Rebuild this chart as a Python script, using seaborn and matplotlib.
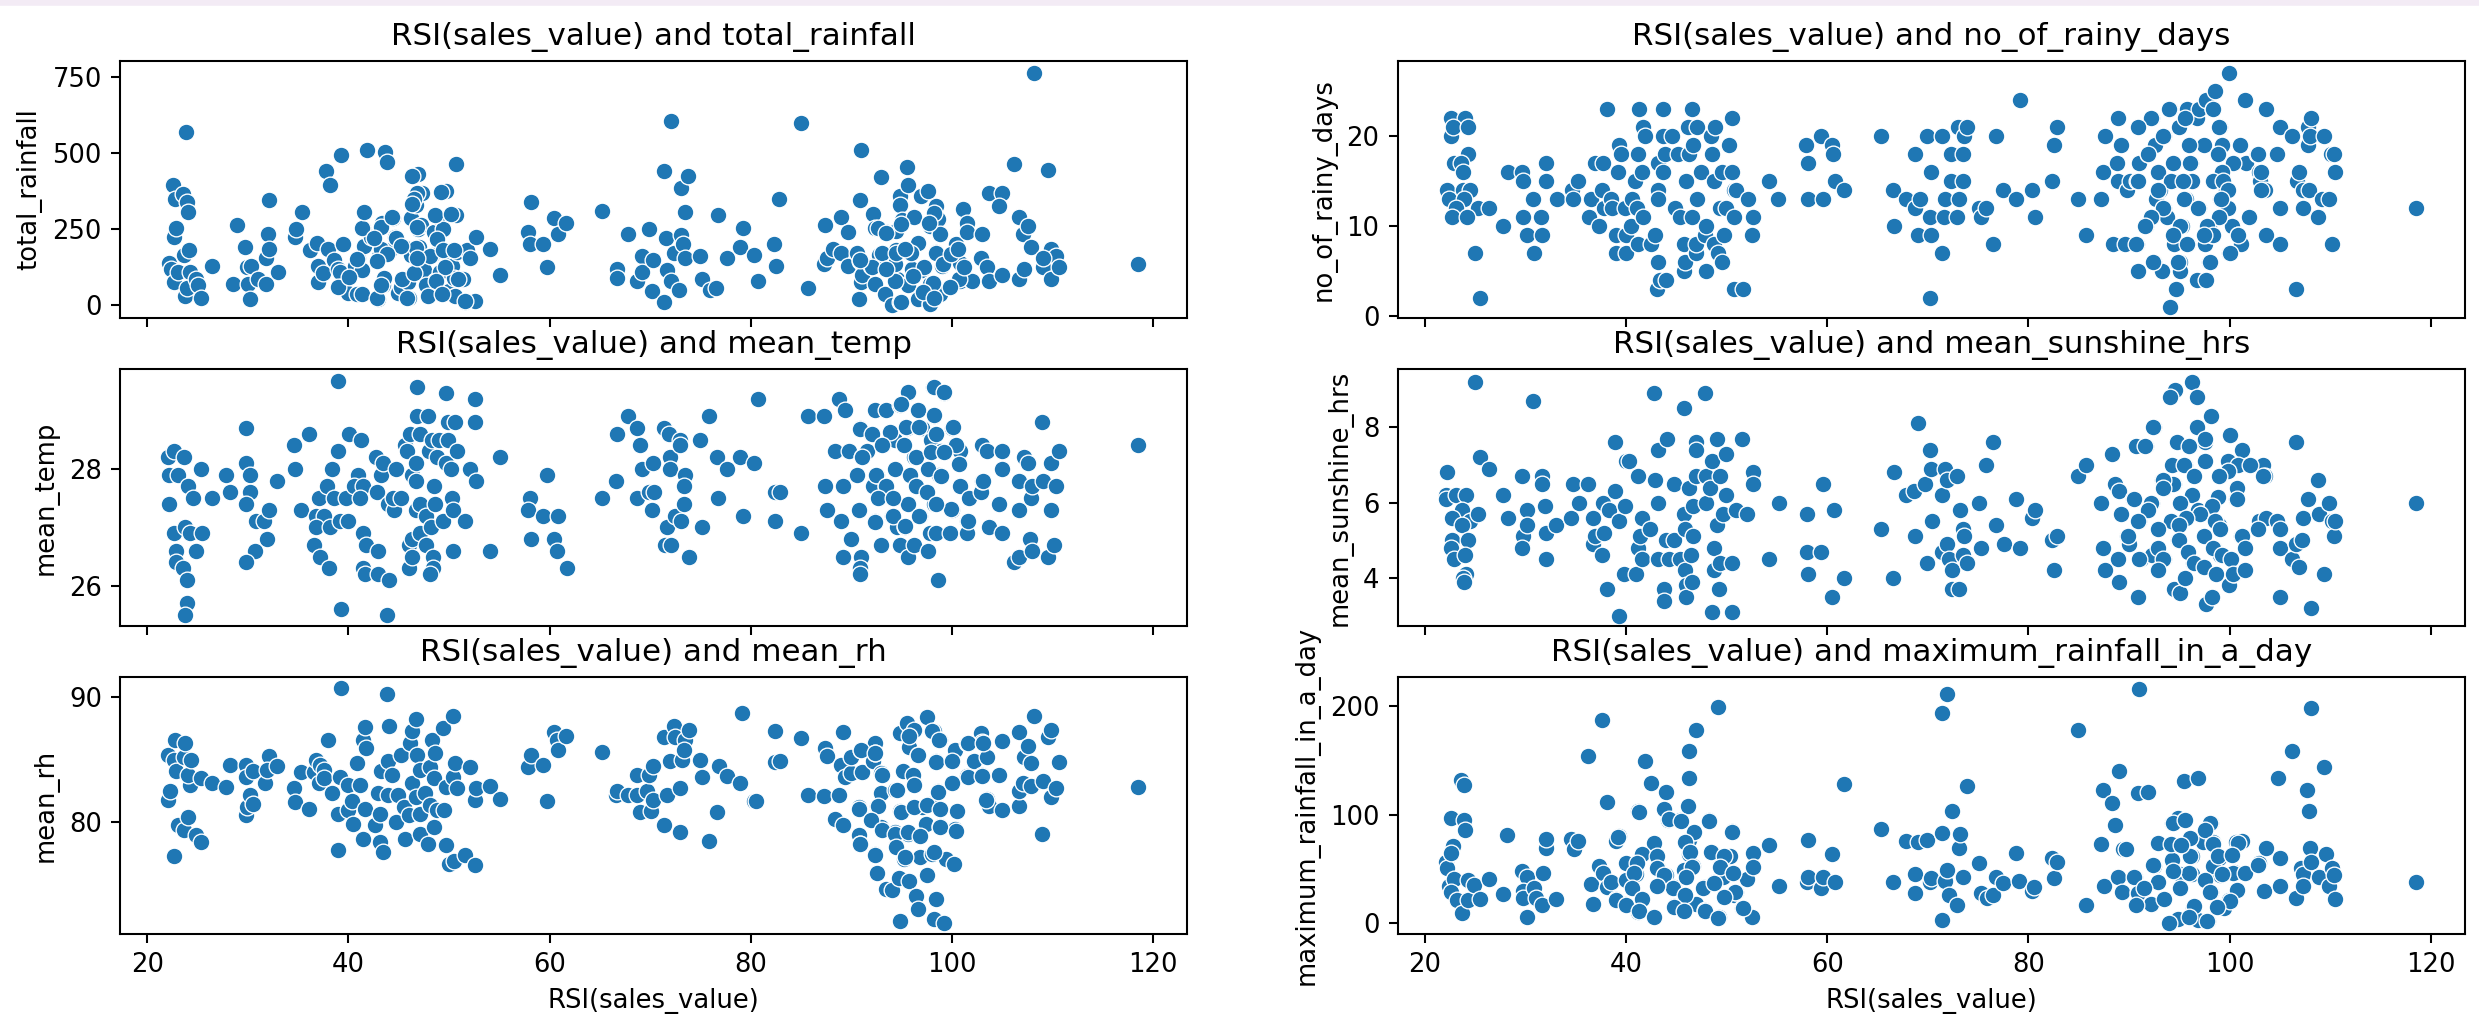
import pandas as pd
import matplotlib
matplotlib.use("Agg")
from matplotlib import pyplot as plt
import seaborn as sns

# values, (RSI, y) per panel
rainfall = [(22.2,140),(22.4,120),(22.6,395),(22.7,225),(22.8,350),(22.9,255),(22.7,75),(23.1,110),(23.6,365),(23.7,165),(23.9,570),(24,340),(24.1,305),(24.2,180),(24.3,110),(23.8,30),(24,55),(24.9,85),(25.1,65),(25.4,25),(26.4,130),
    (28.5,70),(28.9,265),(29.7,190),(29.9,125),(30,70),(30.3,130),(30.2,20),(31,85),(31.8,70),(31.8,155),(32,235),(32.1,185),(32.1,345),(33,110),(34.7,225),(34.8,250),(35.4,305),(36.2,180),(36.9,205),(37,75),(37,130),(37.5,105),(37.8,440),(38,185),(38.2,395),(38.6,150),(39,120),(39.2,110),(39.3,60),(39.5,200),(39.3,495),(40,40),(40.7,130),(40.9,35),(41,155),(41.4,115),(41.5,255),(41.6,195),(41.6,305),(41.9,510),(42.3,225),(42.9,20),(43,160),(43.3,270),(43.4,65),(43.5,90),(43.6,505),(43.8,470),(44.1,180),(44.4,285),(44.6,225),(44.9,40),(45.2,60),(45.5,190),(45.9,75),(46,25),(46.2,285),(46.2,165),(46.6,345),(46.7,330),(46.8,120),(46.9,250),(46.9,430),(47,190),(47.2,265),(47.3,370),(47.3,155),(47.5,115),(47.8,60),(48,40),(48.3,165),(48.5,240),(48.6,80),(48.9,290),(49.1,110),(49.4,250),(49.7,375),(49.8,170),(50,45),(50.3,130),(50.5,90),(50.7,295),(50.8,175),(50.7,465),(50.6,30),(51.4,85),(51.8,180),(51.6,10),(52.1,155),(52.6,15),(52.7,225),(54.1,185),(55.1,100),
    (57.9,240),(58.2,340),(58.1,200),(59.3,200),(59.7,125),(60.4,285),(60.8,235),(61.6,270),(65.2,310),(66.7,120),(66.7,90),(67.8,235),(68.7,80),(69.2,160),(69.2,110),(69.9,250),(70.3,150),(70.2,45),(71.4,440),(71.4,10),(71.6,220),(71.7,115),(72.1,605),(72.1,80),(72.4,170),(72.9,50),(73.1,230),(73.1,385),(73.3,200),(73.5,305),(73.8,425),(73.5,155),(75,160),(75.2,85),(75.9,50),(76.5,55),(76.7,295),(77.6,155),(78.9,190),(79.2,255),(80.3,165),(80.7,80),(82.3,200),(82.5,130),(82.8,350),(85,600),(85.7,55),
    (87.3,135),(87.4,265),(87.6,155),(88.2,185),(89,290),(89,170),(89.7,240),(89.7,130),(90.6,170),(90.8,20),(90.9,345),(90.9,145),(91,510),(91,75),(91.1,100),(91.9,130),(92.1,300),(92.3,255),(92.3,70),(92.7,165),(92.9,420),(93.3,35),(93.5,240),(94,0),(94.3,245),(94.3,135),(94.5,85),(94.4,180),(94.8,360),(94.8,10),(94.8,330),(95,280),(95.5,455),(95.6,395),(95.6,70),(95.6,175),(96.2,290),(96,120),(96.6,205),(96.6,20),(96.9,360),(97,115),(97.6,375),(97.8,5),(97.8,70),(97.8,260),(98.4,325),(98.6,280),(98.8,235),(98.4,175),(98.8,35),(99,130),(99.8,60),(100,165),(100.4,200),(100.8,80),(100.8,140),(101.1,315),(101.5,270),(101.5,240),(102,80),(102.9,155),(103,235),(103.5,125),(103.7,370),(103.7,80),(105,370),(104.7,325),(105,100),(106.2,465),(106.7,290),(106.7,85),(107.1,235),(107.2,120),(107.6,260),(107.9,190),(108.2,765),(109,125),(109.5,445),(109.8,185),(109.8,85),(110.3,160),(110.6,125),(109,155),(118.5,135)]
rainfall_dense = [(92,124),(90.9,149),(93,173),(94.3,134),(94.4,173),(96,118),(97.2,124),(98.4,173),(99.1,134),(99.9,167),(100.7,85),(99.8,61),(98.1,72),(95.6,67),(94.9,9),(97.8,3),(94.4,244),(92.6,255),(93.4,238),(94.9,266),(98.6,284),(98.2,304),(98.8,233),(97.7,271),(94.3,80),(93.4,118),(95.9,173),(97.1,42),(95.3,184),(101.2,124),(98.2,25),(96.1,96),(100.6,184),
    (39,58),(40.1,91),(41.4,36),(42.8,25),(43.2,66),(40.9,153),(43.2,184),(41.4,255),(43.2,258),(41.6,306),(44.3,290),(44.7,220),(45.3,85),(45.8,22),(46.5,107),(46.7,189),(46.8,258),(46.8,369),(46.5,348),(46.3,331),(46.3,424),(49.2,372),(48.6,295),(50.2,301),(48.8,216),(48.1,162),(49.4,180),(50.5,180),(49.6,124),(50.9,87),(47.7,66),(48.7,80),(47.9,31),(50.6,31),(51.6,14),(49.3,36),(46.8,156),(45.2,195),(42.5,222),(43.8,167),(42.8,145)]

mean_temp = [(39,29.5),(46.8,29.4),(49.7,29.3),(52.6,29.2),(80.7,29.2),(88.8,29.2),(95.6,29.3),(98.1,29.4),(99.2,29.3),
    (22.1,28.2),(22.7,28.3),(23.7,28.2),(22.2,27.9),(23.1,27.9),(22.2,27.4),(24.1,27.7),(25.4,28),(24.6,27.5),(26.4,27.5),(22.7,26.9),(23.8,27),(24.3,26.9),(25.5,26.9),(22.9,26.6),(22.9,26.4),(24.9,26.6),(23.6,26.3),(24,26.1),(24,25.7),(23.8,25.5),
    (27.8,27.9),(28.2,27.6),(29.8,28.7),(29.8,28.1),(30.2,27.9),(30.2,27.6),(29.8,27.4),(30.8,27.1),(31.6,27.1),(32.1,27.3),(31.9,26.8),(30.7,26.6),(29.8,26.4),(32.9,27.8),(34.6,28.4),(34.7,28),(35.3,27.3),(36.1,28.6),(36.6,26.7),(37.1,27.5),(36.8,27.2),(37.6,27.2),(36.8,27),(38.2,27),(37.2,26.5),(38.1,26.3),(37.9,27.7),(38.4,28),(38.6,27.5),(39,28.3),(39.2,27.1),(40,27.1),(40.1,28.6),(39.8,27.5),(41,27.9),(40.6,27.7),(41.3,28.5),(41.5,27.7),(41.2,27.5),(41.5,26.9),(41.8,26.7),(41.5,26.3),(41.7,26.2),(42.8,27.6),(42.9,26.6),(42.9,26.2),(42.7,28.2),(43.2,27.9),(43.4,28.1),(43.9,27.4),(44,26.1),(43.8,25.5),(39.3,25.6),(44.5,27.3),(44.4,27.5),(44.7,28),(45.2,27.5),(45.6,28.4),(45.8,28.3),(46.1,28.6),(46,26.7),(46,26.3),(46.3,27.9),(46.3,26.8),(46.3,26.5),(46.7,27.3),(46.7,27.8),(46.7,28.1),(46.8,28.9),(47.1,28.6),(47.1,27.4),(47.1,26.9),(47.7,27.2),(47.7,26.7),(47.9,28.9),(48,28.3),(48.3,28.5),(48.4,26.5),(48.4,26.3),(48.1,26.2),(48.5,27.7),(48.6,27.4),(48.8,28.2),(48.2,27),(49,28.5),(49.4,27.1),(49.7,28.1),(49.9,28.5),(49.9,28.8),(50.3,27.5),(50.4,27.3),(50.4,26.6),(50.2,28),(50.8,28.3),(50.6,28.8),(51.6,27.1),(52.1,28),(52.6,28.8),(52.7,27.8),(54.1,26.6),(55.1,28.2),
    (58.1,27.5),(57.9,27.3),(58.2,26.8),(59.3,27.2),(59.7,27.9),(60.4,26.8),(60.7,26.6),(60.8,27.2),(61.7,26.3),(65.2,27.5),(66.6,27.8),(66.7,28.6),(67.8,28.9),(68.7,28.7),(68.7,27.5),(69,28.4),(69.2,28),(69.9,27.6),(70.3,28.1),(70.2,27.3),(70.4,27.6),(71.4,28.7),(71.5,26.7),(71.7,27),(72,28.2),(71.9,28.6),(72,28),(72.1,26.7),(72.5,27.2),(73,28.5),(73,28.4),(73.1,27.1),(73.5,27.9),(73.4,27.7),(73.4,27.4),(73.9,26.5),(75,28.5),(75.2,27),(75.8,28.9),(76.6,28.2),(76.7,27.5),(77.6,28),(78.9,28.2),(79.2,27.2),(80.3,28.1),(82.4,27.6),(82.9,27.6),(82.4,27.1),(85,26.9),(85.7,28.9),(87.3,28.9),(87.4,27.7),(87.6,27.3),(88.4,28.3),(89,27.1),(89.2,27.7),(89.2,26.5),(89.4,29),(89.8,28.3),(90,26.8),(90.6,27.9),(90.8,27.3),(90.9,28.7),(91,26.5),(90.9,26.3),(90.9,26.2),(91.1,28.2),(91.6,28.3),(91.9,28.6),(92.1,27.7),(92.3,29),(92.3,27.1),(92.5,27.9),(92.7,27.5),(92.9,26.7),(93.1,28.4),(93.4,29),(93.4,27.7),(94,27.5),(94,27.2),(94.3,28.5),(94.3,28),(94.5,27),(94.8,29.1),(94.8,26.7),(95.3,27),(95.6,26.5),(95.5,28.7),(95.6,27.4),(96.2,28.2),(96.2,26.7),(96.6,29),(96.4,27.7),(96.8,27.2),(97,28.7),(97.4,27.6),(97.6,28),(97.6,26.6),(97.8,26.9),(97.9,28.5),(98.2,28.9),(98.4,26.9),(98.2,27.4),(98.6,26.1),(98.7,27.9),(98.9,28.3),(99.8,26.9),(100,28.7),(100,27.3),(100.3,28.4),(100.8,27.7),(100.7,28.1),(100.8,28.3),(101.5,27.1),(101.5,26.9),(101.7,27.5),(102.9,27.6),(103,27.8),(103,28.4),(103.5,28.3),(103.7,27),(104.7,27.4),(105,28.3),(105,28),(105,26.9),(106.2,26.4),(106.7,27.3),(106.7,26.5),(106.7,27.8),(107.2,28.2),(107.6,28.1),(107.9,27.5),(107.8,26.8),(108,26.6),(108,27.7),(108.9,28.8),(109,27.8),(109.5,26.5),(109.8,28.1),(109.8,27.3),(110.1,26.7),(110.3,27.7),(110.6,28.3),(118.5,28.4)]
temp_dense = [(95.6,29.31),(98.2,29.4),(99.2,29.31),(94.9,29.11),(96.6,29.01),(98.2,28.92),(90.9,28.69),(92,28.6),(93.8,28.63),(95.4,28.71),(96.7,28.71),(98.4,28.6),(100.1,28.71),(93,28.4),(95.2,28.4),(91.1,28.21),(100.4,28.4),(96.4,28.2),(97.9,28.28),(99.2,28.28),(100.7,28.09),(94.3,28),(97.6,28),(98.9,27.88),(95.8,27.9),(92.4,27.9),(90.6,27.9),(93.4,27.7),(96.4,27.7),(97.5,27.6),(92.6,27.5),(94.1,27.5),(99.9,27.31),(98.4,27.4),(96.7,27.2),(94.1,27.2),(92.3,27.09),(95.3,27.03),(101.6,27.1),(103.05,27.8)]

mean_rh = [(22.1,85.4),(22.1,81.8),(22.3,82.5),(22.8,86.6),(22.7,85),(22.9,84.1),(22.7,77.3),(23.1,79.8),(23.7,85.2),(23.8,86.3),(23.7,79.4),(24.1,80.4),(24.3,83),(24.1,83.8),(24.4,85),(24.9,79),(25.4,78.4),(25.4,83.5),(26.4,83.1),(27.8,82.8),(28.2,84.6),(29.8,84.6),(29.8,83.6),(29.8,80.6),(29.9,81.2),(30.2,82.2),(30.5,81.5),(30.5,84.1),(31.7,83.1),(32.1,85.3),(31.9,84.2),(32.9,84.5),(34.6,82.7),(34.7,81.6),(35.3,84),(36.1,81.1),(36.6,84),(36.8,85),(37.1,83.1),(37.2,84.6),(37.6,84.2),(37.6,83.5),(38,86.6),(38.4,82.3),(39,77.8),(39.3,90.7),(39,80.7),(39.2,83.6),(40,83),(40,81),(40.4,81.7),(40.5,79.9),(40.9,84.7),(41.2,83),(41.5,86.6),(41.5,78.7),(41.7,87.6),(41.7,81.1),(41.8,85.9),(42.6,79.8),(42.9,82.3),(43.1,78.4),(43.1,80.7),(43.2,84.1),(43.4,77.6),(43.8,90.2),(44,87.7),(43.9,82.2),(43.9,84.9),(44.3,83.8),(44.7,80),(44.9,82.2),(45.2,85.4),(45.5,81.2),(45.6,78.7),(46,80.6),(46.1,86.3),(46.3,87.3),(46.3,83.1),(46.7,88.2),(46.8,85.4),(46.7,82),(47.1,79.1),(47.1,80.7),(47.1,84.2),(47.6,82.3),(47.9,78.3),(48.1,81.4),(48.1,84.4),(48.3,86.6),(48.5,79.6),(48.6,85.5),(48.8,81),(48.5,83.5),(49.4,87.5),(49.5,81),(49.7,82.8),(49.7,78.2),(50,76.7),(50.4,83.6),(50.4,88.5),(50.5,76.9),(50.6,84.7),(50.8,82.7),(51.6,77.4),(52.1,84.4),(52.6,76.6),(52.6,81.8),(52.7,82.7),(54.1,82.9),(55.1,81.9),
    (57.9,84.4),(58.2,85.4),(59.3,84.6),(59.7,81.7),(60.4,87.2),(60.7,86.6),(60.8,85.8),(61.6,86.9),(65.2,85.6),(66.6,82.2),(66.7,82.5),(67.8,82.2),(68.7,82.2),(68.7,83.8),(69,80.8),(69.7,82.5),(69.9,83.8),(70.1,80.9),(70.3,81.8),(70.3,84.5),(71.4,86.8),(71.4,79.8),(71.7,82.2),(72,84.9),(72.4,87.7),(72.5,86.8),(73,82.7),(73,79.2),(73.2,85),(73.5,86.6),(73.4,85.8),(73.9,87.4),(75,85),(75.2,83.6),(75.8,78.5),(76.6,80.8),(76.8,84.5),(77.6,83.7),(78.9,83.1),(79.1,88.7),(80.3,81.7),(80.5,81.7),(82.4,84.8),(82.9,84.9),(82.4,87.3),(85,86.7),(85.7,82.2),(87.3,82.1),(87.4,85.9),(87.6,85.3),(88.4,80.3),(88.8,82.2),(89,84.6),(89.2,87.2),(89.2,79.8),(89.4,83.6),(90,83.9),(90,85.2),(90.8,81.2),(90.8,79),(91,85.8),(90.9,78.3),(91.1,84),(91.9,80.3),(92.1,84.9),(92.3,86.3),(92.3,85.5),(92.3,77.5),(92.5,76),(92.5,81.3),(92.9,83.9),(92.9,82.3),(92.9,79.6),(93.4,74.7),(94,74.6),(94.3,82.6),(94.3,79.2),(94.4,78.2),(94.7,75.6),(94.8,72.1),(94.8,87.1),(94.8,80.9),(95.2,77.1),(95.5,87.9),(95.6,79.1),(95.7,86),(95.7,75.3),(96.2,83.1),(96.2,87.4),(96.4,74.1),(96.6,85.4),(96.6,73.1),(96.8,77.2),(97,81.2),(97.4,79.9),(97.5,75.8),(97.5,88.4),(97.8,81.5),(98,77.5),(98.2,72.3),(98.2,87.3),(98.4,84.9),(98.4,73.9),(98.6,82.5),(98.8,86.6),(98.8,79.7),(99.2,72),(99.4,77.1),(100,83.1),(100,84.9),(100.2,76.7),(100.5,80.9),(100.3,79.5),(100.3,85.8),(101.5,86.3),(101.5,83.7),(102.2,84.9),(102.9,87.1),(103,83.8),(103,86.4),(103.5,81.9),(103.5,85.2),(103.7,81.3),(104.7,83.8),(105,81),(105,86.5),(106.7,87.2),(106.7,81.3),(106.7,82.5),(107.1,83.1),(107.2,85.2),(107.6,86.1),(107.9,84.7),(107.9,82.9),(108.2,88.5),(108.9,79.1),(109,83.3),(109.5,86.8),(109.8,87.4),(109.8,82),(110.3,82.7),(110.6,84.8),(118.5,82.8)]
rh_dense = [(95.7,86.9),(98,87.3),(98.7,86.6),(91,85.8),(92.3,85.5),(96.6,85.4),(98.4,84.8),(100,84.9),(101.6,86.3),(103.05,86.3),(93,83.8),(95.1,84.1),(96.1,83.8),(101.6,83.6),(103,83.7),(94.5,82.6),(96.2,83),(98.6,82.4),(100,83.1),(92.6,81.3),(90.8,81.1),(91.9,80.2),(94.9,80.8),(96.2,81.2),(97.5,81.4),(98.8,81.1),(98.8,79.6),(100.4,79.3),(93,79.4),(94.3,79.1),(95.6,79.2),(96.8,78.9),(90.9,78.3),(94.4,78.06),(92.3,77.4),(95.3,77.2),(98.2,77.6),(103.4,81.8)]

rainy_days = [(22.6,22),(24,22),(22.6,20),(22.8,21),(24.3,21),(22.9,17),(24.3,18),(23.6,17),(23.8,16),(22.2,14),(22.4,13),(23.8,14),(24.5,14),(23.9,13),(23.1,12),(25.3,12),(26.4,12),(22.7,11),(24.2,11),(25,7),(25.5,2),(27.8,10),(28.3,16),(29.7,16),(29.8,15),(29.8,11),(30.2,9),(30.7,13),(30.8,7),(31.5,11),(31.6,9),(32,17),(32,15),(33.1,13),(34.6,14),(34.7,13),(35.2,15),(36.3,11),(36.5,13),(36.9,17),(37.3,10),(37.6,14),(37.7,17),(38.1,23),(37.8,12),(38.5,13),(38.6,12),(39,9),(39,7),(39.2,16),(39.3,19),(39.5,18),(40,9),(40,7),(39.9,12),(40.5,10),(40.6,13),(40.9,15),(41.2,18),(41.3,23),(41.1,12),(41.7,21),(41.7,11),(41.6,16),(41.2,8),(41.9,20),(42.5,8),(42.9,9),(43.2,6),(43.2,14),(43.1,3),(43.2,13),(43.2,17),(43.4,4),(43.7,23),(43.7,16),(44,4),(43.9,18),(43.7,20),(44.6,20),(44.9,12),(45.2,18),(45.4,11),(45.8,5),(45.8,8),(45.9,6),(46,15),(46.2,21),(46.3,18),(46.6,23),(46.6,11),(46.7,19),(47,7),(47.1,13),(47.1,21),(47,8),(47.4,16),(47.8,9),(47.9,5),(47.9,10),(48.4,20),(48.5,18),(48.7,15),(48.8,21),(48.7,8),(49.1,7),(49.3,12),(49.5,6),(49.5,16),(49.9,12),(49.7,9),(50.2,19),(50.5,22),(50.5,16),(50.7,3),(50.7,14),(50.7,11),(51.6,3),(50.9,14),(52.1,13),(52.6,11),(52.5,9),(54.2,15),(55.1,13),(57.9,19),(58.1,17),(58.1,13),(59.4,20),(59.6,13),(60.5,19),(60.6,18),(60.8,15),(61.7,14),(65.3,20),(66.5,14),(66.6,10),(67.8,13),(68.7,12),(69,9),(68.7,18),(69.2,13),(69.9,20),(70.2,11),(70.3,9),(70.2,2),(70.3,16),(71.4,7),(71.4,20),(71.6,11),(71.7,13),(72.3,15),(72.3,18),(72.9,11),(73.1,13),(73,21),(73.5,15),(73.5,18),(73.6,20),(73.9,21),(75.1,12),(75.3,11),(75.8,12),(76.5,8),(76.8,20),(77.5,14),(78.8,13),(79.2,24),(80.3,14),(80.6,11),(82.3,15),(82.5,19),(82.8,21),(84.9,13),(85.7,9),(87.2,13),(87.4,16),(87.6,20),(88.4,8),(88.9,22),(88.8,17),(88.9,15),(89.2,19),(89.6,8),(89.8,14),(90.1,15),(90.8,8),(90.8,15),(90.9,5),(90.9,21),(91,17),(91.7,10),(91.9,18),(92.3,22),(92.5,6),(92.3,11),(92.6,19),(92.7,13),(92.9,16),(93.1,14),(93.3,5),(93.5,12),(93.5,20),(93.8,11),(94.1,1),(94.1,23),(94.4,9),(94.5,8),(94.5,17),(94.7,3),(94.4,15),(95,21),(95.1,6),(95.1,5),(95.3,10),(95.7,13),(95.7,22),(95.8,23),(95.9,8),(96.2,17),(96.3,15),(96.7,22),(96.7,4),(96.9,12),(96.9,23),(97.3,19),(97.5,8),(97.6,24),(97.6,4),(97.9,6),(97.9,10),(98.2,9),(98.3,23),(98.5,25),(98.6,15),(98.8,18),(99,21),(99,13),(99,11),(99.2,19),(99.6,14),(99.8,12),(99.9,27),(99.9,7),(100.2,10),(100.4,17),(100.8,9),(101,19),(101.1,8),(101.5,24),(101.6,17),(101.9,11),(102.7,18),(102.9,16),(103,15),(103.5,14),(103.6,23),(103.6,9),(104.7,18),(105,21),(105,12),(105,8),(106.2,20),(106.6,3),(106.7,15),(106.9,16),(107.3,12),(107.3,14),(107.8,21),(107.8,19),(107.9,14),(108.1,22),(108,20),(108.8,11),(109.2,13),(109.4,20),(109.9,13),(110.1,18),(110.2,8),(110.4,18),(110.5,16),(118.5,12)]
days_dense = [(94,23),(95.6,22),(98.3,23),(92.2,22),(90.9,21),(93.4,20),(98.9,21),(97.4,19),(96,19),(91.9,18),(94.4,17),(96.1,17),(98.8,18),(100.3,17),(92.9,16),(99.2,16),(90.9,15),(94.2,15),(95.4,15),(98.3,15),(99.3,15),(92.9,14),(99.8,14),(95.5,13),(99.1,13),(93.4,12),(96.8,12),(92.2,11),(98.9,11),(101.9,11),(95.1,10),(97.7,10),(91.6,10),(94.4,9),(98.3,9),(100.8,9),(90.7,8),(95.8,8),(97.4,9),(100,7),(92.4,6),(94.9,6),(98,6),(102.8,18),(103.15,16),(103.15,14)]

sunshine = [(25,9.2),(30.7,8.7),(42.8,8.9),(47.8,8.9),(45.8,8.5),(94.6,9),(96.3,9.2),(94.1,8.8),(96.7,8.8),(98.1,8.3),
    (22.2,6.8),(22.1,6.2),(22.1,6.1),(23.1,6.2),(24.1,6.2),(23.7,5.8),(22.7,5.6),(24.5,5.5),(23.7,5.4),(25.5,7.2),(26.4,6.9),(25.3,5.7),(22.7,5),(22.6,4.8),(22.9,4.5),(24.3,5),(24,4.6),(24.1,4.1),(23.8,4),(23.9,3.9),(27.8,6.2),(28.3,5.6),(29.7,6.7),(29.8,5.1),(29.7,4.8),(30.2,5.8),(30.2,5.4),(31.6,6.7),(31.6,6.5),(31.9,5.9),(32,5.2),(32,4.5),(33,5.4),(34.7,6.5),(34.5,5.6),(35.3,6),(36.2,6.5),(36.7,5.6),(36.7,4.9),(36.9,5.1),(37.6,4.6),(37.8,5.2),(37.7,6),(38.3,5.8),(38.1,3.7),(38.9,7.6),(38.9,6.3),(39.3,3),(39.3,5.5),(39.8,4.1),(39.9,5.9),(40,7.1),(40.3,7.1),(41,4.1),(41.2,6.7),(41.2,4.8),(41.4,5.1),(41.6,5.6),(41.6,4.5),(42.4,5.3),(42.9,6.6),(43.2,4.5),(43.2,7.4),(43.2,6),(43.8,3.7),(43.8,3.4),(44.1,7.7),(44,5),(44.3,4.5),(44.8,6.5),(44.8,5),(45.4,4.5),(45.8,5.7),(45.9,4.2),(46,3.8),(46,3.5),(45.9,5.3),(46.3,6.4),(46.5,4.6),(46.7,5.1),(46.7,5.9),(46.6,3.9),(47,7.6),(47,7.4),(47,6.7),(47.9,6.7),(47.9,6),(48.3,6.4),(48.5,7.1),(48.5,3.1),(48.7,4.2),(48.7,4.8),(49,5.4),(49,7.7),(49.2,3.7),(49.3,6.7),(49.3,4.4),(49.6,5.7),(49.9,7.3),(49.9,6.2),(50.5,3.1),(50.5,4.4),(50.9,5.8),(51.5,7.7),(52,5.7),(52.6,6.8),(52.6,6.5),(54.2,4.5),(55.2,6),(58,5.7),(58,4.7),(58.1,4.1),(59.4,4.7),(59.6,6.5),(60.5,3.5),(60.7,5.8),(61.7,4),(65.3,5.3),(66.5,4),(66.6,6.8),(67.8,6.2),(68.6,6.3),(68.7,5.1),(69,8.1),(69.7,6.5),(69.9,4.4),(70.2,7.4),(70.3,6.9),(70.4,5.5),(71.4,4.7),(71.4,6.2),(71.7,6.9),(71.9,6.6),(71.9,4.9),(72.1,4.5),(72.4,4.2),(72.4,3.7),(72.9,6.7),(73.1,3.7),(73.2,5.8),(73.5,5.3),(73.6,5.1),(73.5,4.6),(73.9,4.4),(75.1,6),(75.3,4.8),(75.8,7),(76.5,7.6),(76.8,5.4),(77.6,4.9),(78.8,6.1),(79.2,4.8),(80.3,5.6),(80.6,5.8),(82.3,5),(82.5,4.2),(82.8,5.1),(84.9,6.7),(85.7,7),(87.2,6),(87.4,4.8),(87.6,4.2),(88.3,7.3),(88.6,6.5),(88.9,4.5),(89,3.9),(89,6.3),(89.2,5.7),(89.8,5.1),(90,4.9),(90.4,6.1),(90.8,7.5),(90.9,3.5),(91,5.5),(91.2,4.5),(91.7,7.5),(92.3,6),(92.3,4.6),(92.5,8),(92.9,4.2),(92.9,5.3),(93.3,6.6),(93.5,6.4),(93.5,4.5),(94.3,7),(94.5,3.7),(94.5,6.5),(94.3,5.5),(94.8,7.6),(94.9,5),(95.1,6),(95.1,3.6),(95.6,7),(95.6,4),(95.9,4.7),(96.1,7.5),(96.3,6.2),(96.4,4.4),(96.7,8),(96.8,5.8),(97.1,5.7),(97.4,5.1),(97.4,4.3),(97.5,7.1),(97.6,3.3),(97.5,7.6),(98.1,8.3),(98.2,3.5),(98.2,5.9),(98.4,4.8),(98.6,4.1),(98.9,5.4),(99,6.7),(99,4.6),(99.8,7.1),(100,7.8),(99.9,3.8),(100.4,4.1),(100.6,6.1),(100.7,6.4),(101.2,7.4),(101.1,5.1),(101.5,4.2),(101.5,4.8),(102,7),(102.8,5.3),(102.9,5.5),(103.3,7),(103.5,6.7),(103.6,5.6),(104.7,5.5),(105,5.3),(105,3.5),(105,4.8),(106.2,4.5),(106.6,7.6),(106.6,4.9),(106.9,4.3),(107.2,5),(107.3,5.6),(107.8,6.1),(108.1,3.2),(108.8,6.6),(108.9,5.7),(109.4,4.1),(109.9,6),(110.2,5.5),(110.4,5.1),(110.5,5.5),(118.5,6)]
sun_dense = [(92.4,8),(96.7,8),(100,7.8),(90.7,7.5),(91.6,7.5),(94.8,7.6),(96,7.5),(97.5,7.7),(101.2,7.4),(94.3,7),(95.5,7),(97.5,7.1),(100.8,7),(99.8,6.85),(102,7),(96.5,6.7),(98.9,6.7),(94.4,6.5),(93.4,6.6),(93.4,6.4),(100.7,6.1),(98.8,6.15),(90.5,6.1),(92.2,6),(95.1,6),(98.2,5.9),(91.9,5.8),(97,5.7),(95.7,5.6),(90.9,5.5),(94.2,5.5),(98.5,5.5),(92.9,5.3),(95,5.4),(99,5.3),(97.4,5.1),(95,5),(92.9,4.8),(98.3,4.8),(101.2,5.1),(101.5,4.8),(95.9,4.7),(89.9,5.1),(99.2,4.6),(100.1,4.5),(93.4,4.5),(91,4.5),(96.5,4.4),(97.4,4.3),(92.9,4.2),(98.6,4.1),(100.3,4.1),(101.5,4.2),(95.6,4),(102.8,5.3),(103.3,6.7)]

max_rainfall = [(22.6,97),(23.9,95),(24,86),(23.6,132),(23.9,127),(22.1,56),(22.2,51),(22.8,71),(22.6,65),(22.4,34),(22.9,41),(22.6,29),(23.2,21),(23.7,9),(24.3,40),(24.3,21),(24.9,35),(25.5,22),(26.4,41),(27.8,27),(28.2,81),(29.7,48),(30.2,43),(29.8,30),(29.8,23),(30.2,6),(30.8,32),(31,23),(31.6,17),(31.7,46),(32,69),(32,78),(33,22),(34.5,78),(34.8,68),(35.2,76),(36.2,154),(36.5,36),(36.7,18),(37.3,53),(37.6,187),(37.7,46),(38.1,112),(38.1,33),(38.5,38),(39,76),(39.3,80),(39,22),(39.9,18),(40,40),(40,55),(41.2,103),(41.2,10),(41.6,64),(41.6,22),(41,45),(41.1,55),(41.9,149),(42.5,129),(42.8,6),(42.8,74),(43.2,51),(43.2,34),(43.8,105),(44,121),(44.2,95),(44,44),(44.8,33),(44.8,16),(45.4,95),(45.8,12),(45.8,49),(46.2,108),(46.3,134),(46.3,159),(46.3,77),(46.3,64),(46.7,53),(46.8,84),(47,178),(47,18),(47.8,12),(47.7,33),(48.2,95),(48.5,66),(48.7,38),(49.1,199),(49.2,6),(49.3,54),(49.6,43),(50.3,62),(50.5,85),(50.7,26),(50.9,29),(51.5,14),(52,41),(52.5,6),(52.6,65),(52.6,52),(54.2,72),(55.2,34),(58,38),(58.1,77),(58.1,43),(59.4,32),(59.6,43),(60.5,64),(60.8,38),(61.7,128),(65.3,87),(66.5,38),(67.8,76),(68.7,45),(68.7,28),(69,75),(69.9,77),(70.2,38),(70.3,42),(71.4,83),(71.4,194),(71.4,3),(71.7,39),(71.9,211),(71.9,49),(72.1,26),(72.4,103),(72.9,17),(73.1,69),(73.2,82),(73.5,43),(73.9,126),(75.1,55),(75.3,28),(75.9,23),(76.5,26),(76.8,43),(77.5,37),(78.8,65),(79.1,39),(80.3,30),(80.5,33),(82.3,60),(82.5,42),(82.8,56),(84.9,178),(85.7,17),(87.2,73),(87.4,123),(87.5,34),(88.3,111),(88.6,90),(88.9,43),(89,140),(89.4,68),(89.3,29),(90.6,43),(90.7,17),(90.9,120),(90.9,29),(91.9,121),(92.3,18),(92.5,53),(92.9,38),(92.9,74),(93.5,22),(94.1,0),(94.3,92),(94.3,73),(94.3,58),(94.8,4),(94.9,97),(95.1,33),(95.1,45),(95.5,131),(95.6,95),(96.3,45),(96.3,62),(96.4,14),(96.8,134),(96.8,3),(97.3,75),(97.6,40),(97.8,2),(98.1,92),(98.1,29),(98.3,75),(98.9,60),(99,44),(99.4,14),(99.9,21),(100.4,47),(100.6,75),(101.2,76),(101.5,46),(102.9,55),(103.4,30),(103.6,69),(104.8,134),(105,60),(105,34),(106.2,159),(106.6,23),(107.1,51),(107.3,45),(107.3,34),(107.7,123),(107.9,103),(108,69),(108.1,198),(108.1,56),(108.9,43),(109.4,144),(109.6,64),(109.9,34),(110.2,51),(110.4,44),(110.5,22),(91,216),(118.5,38)]
max_dense = [(94.4,92),(95.6,95),(98,92),(97.5,86),(96.1,78.5),(92.9,74),(94.2,73),(98.3,73),(100.8,74),(96.1,61.5),(92.4,54),(98.3,53),(98.8,61.5),(100.2,63),(95.2,72),(96,46),(94.4,48),(97.5,40),(100.3,46),(101.5,46),(102.8,54),(92.9,38),(90.5,43),(95.1,32),(90.9,28),(98,29),(100.7,31),(92.2,18),(90.7,17),(93.5,22),(96.5,16),(100,20),(98.7,15),(94.9,4),(94,0),(97.7,2),(96,6),(91.5,32),(99.2,45),(89.7,68),
    (41.3,102),(43.8,105),(46.2,108),(44.3,96),(45.5,94),(48.2,94),(50.5,84),(46.8,84),(39.2,79),(42.8,74),(45.9,75),(41.6,64),(43.1,62),(46.4,66),(48.4,66),(49.7,62),(40,55),(41.1,55),(46.6,52),(49.3,52),(40.8,46),(43.1,51),(43.8,44),(46,43),(50.6,46),(44.7,32),(47.6,32),(48.7,37),(40.6,32),(43.1,34),(39,21),(41.6,22),(40,17),(50.8,28.5),(45.9,26),(49.7,24.5),(44.8,15),(45.8,11),(47.8,11),(41.3,11),(42.8,6),(49.1,5),(51.6,14)]

x_name = "RSI(sales_value)"
panels = [("total_rainfall", rainfall + rainfall_dense, (-43, 803), 0, 0),
          ("no_of_rainy_days", rainy_days + days_dense, (-0.3, 28.3), 0, 1),
          ("mean_temp", mean_temp + temp_dense, (25.31, 29.71), 1, 0),
          ("mean_sunshine_hrs", sunshine + sun_dense, (2.72, 9.55), 1, 1),
          ("mean_rh", mean_rh + rh_dense, (71.1, 91.6), 2, 0),
          ("maximum_rainfall_in_a_day", max_rainfall + max_dense, (-10, 227), 2, 1)]

# the screenshot looks like a default figure shrunk a bit, hence dpi 186
fig, axes = plt.subplots(3, 2, figsize=(2479 / 186, 1028 / 186), dpi=186, sharex=True)
fig.subplots_adjust(left=0.0484, right=0.9944, top=0.9407, bottom=0.0914, wspace=0.197, hspace=0.197)

for name, pts, lims, r, c in panels:
    df = pd.DataFrame(pts, columns=[x_name, name])
    ax = axes[r, c]
    sns.scatterplot(data=df, x=x_name, y=name, ax=ax, s=42)
    ax.set_ylim(lims)
    ax.set_xlim(17.3, 123.4)
    ax.set_title(f"{x_name} and {name}")

# the pale strip at the top edge of the screenshot
fig.patches.append(plt.Rectangle((0, 0.9965), 1, 0.0035, transform=fig.transFigure, color="#f3ebf5"))

fig.savefig("out.png", dpi=186)
